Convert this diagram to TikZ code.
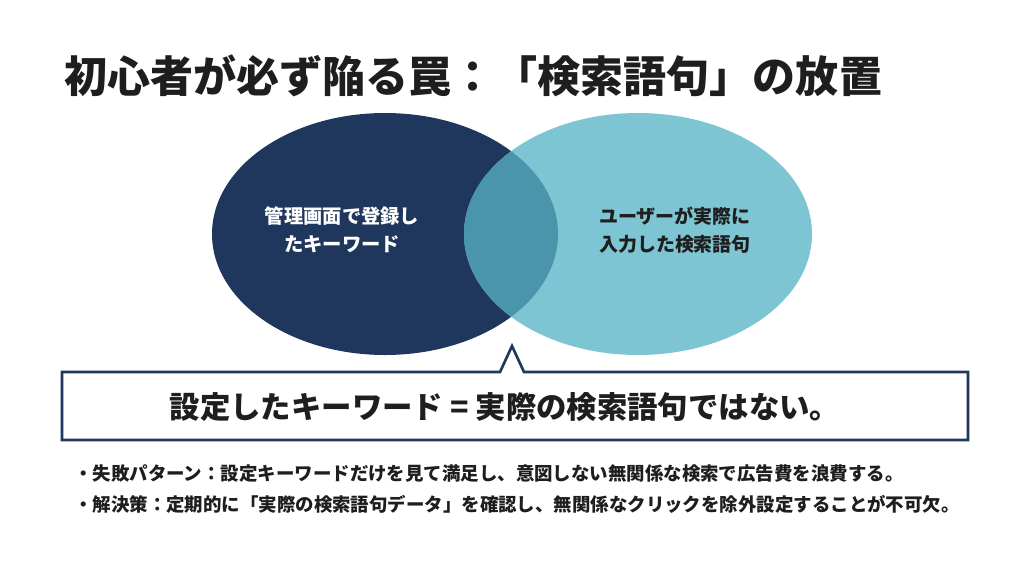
\documentclass[tikz,border=0pt]{standalone}
\usepackage{fontspec}
\setmainfont{Noto Sans CJK JP}

\definecolor{navy}{HTML}{1F375C}
\definecolor{teal}{HTML}{7EC5D4}
\definecolor{overlap}{HTML}{4A94AC}
\definecolor{ink}{HTML}{1E1E1E}

\begin{document}
\begin{tikzpicture}[x=0.02cm,y=-0.02cm]
    \useasboundingbox (0,0) rectangle (1024,572);

    \node[font=\fontsize{24.5}{28}\selectfont\bfseries,anchor=west,ink] (title) at (58,76)
        {初心者が必ず陥る罠：「検索語句」の放置};

    % Venn circles
    \fill[navy] (385,234) ellipse [x radius=173,y radius=121];
    \fill[teal] (638,234) ellipse [x radius=174,y radius=121];
    \begin{scope}
        \clip (385,234) ellipse [x radius=173,y radius=121];
        \fill[overlap] (638,234) ellipse [x radius=174,y radius=121];
    \end{scope}

    \node[font=\fontsize{11}{16}\selectfont\bfseries,white,align=center] (registered) at (342,230)
        {管理画面で登録し\\たキーワード};
    \node[font=\fontsize{10.8}{16}\selectfont\bfseries,ink,align=center] (searched) at (675,230)
        {ユーザーが実際に\\入力した検索語句};

    % Callout
    \draw[navy,line width=1.5pt,fill=white,line join=miter]
        (62,372) -- (500,372) -- (512,346) -- (524,372) -- (968,372)
        -- (968,440) -- (62,440) -- cycle;
    \node[font=\fontsize{17.3}{20}\selectfont\bfseries,ink] (message) at (505,407)
        {設定したキーワード = 実際の検索語句ではない。};

    % Notes
    \node[font=\fontsize{10.5}{12}\selectfont\bfseries,ink,anchor=west] (fail) at (68,474)
        {・失敗パターン：設定キーワードだけを見て満足し、意図しない無関係な検索で広告費を浪費する。};
    \node[font=\fontsize{10.5}{12}\selectfont\bfseries,ink,anchor=west] (fix) at (68,504)
        {・解決策：定期的に「実際の検索語句データ」を確認し、無関係なクリックを除外設定することが不可欠。};
\end{tikzpicture}
\end{document}
